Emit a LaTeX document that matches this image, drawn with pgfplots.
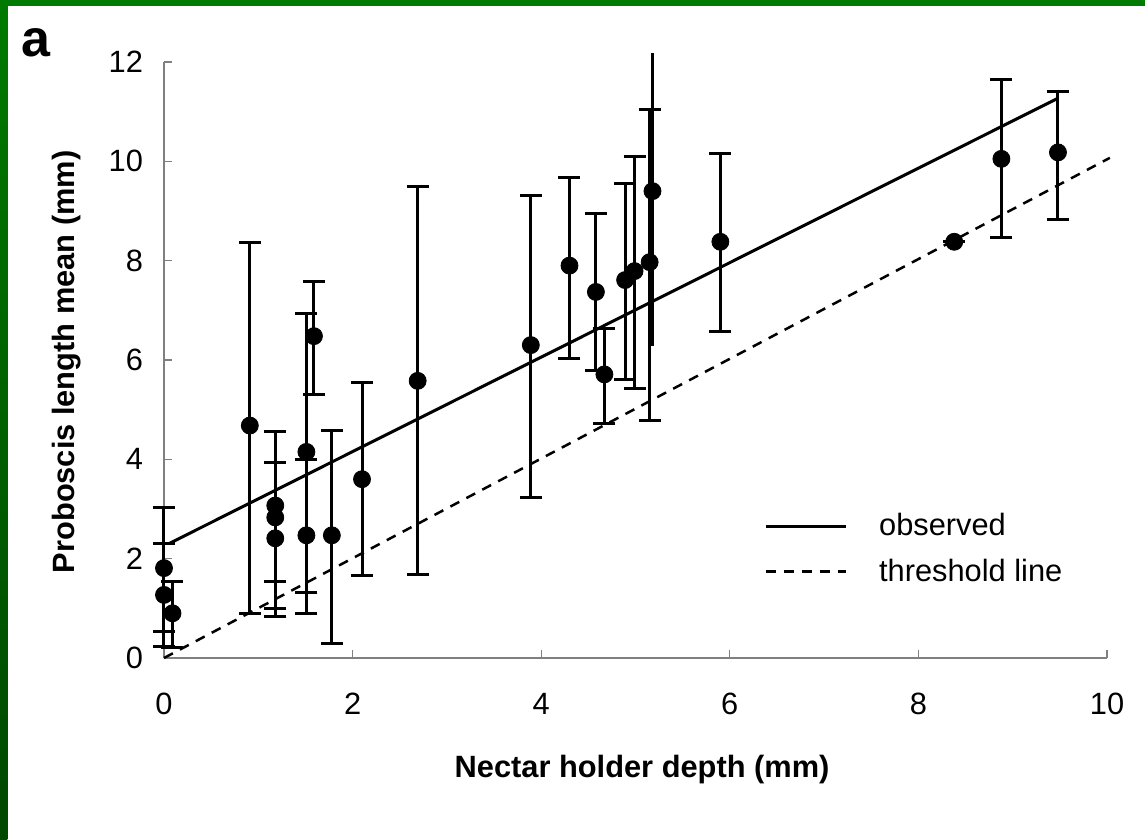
\documentclass[border=0pt]{standalone}
\usepackage{fontspec}
\setmainfont{Liberation Sans}
\usepackage{pgfplots}
\usepackage{pgfplotstable}
\pgfplotsset{compat=1.18}

\definecolor{framegreen}{RGB}{0,122,0}
\definecolor{framedark}{RGB}{0,72,0}

% depth, mean proboscis length, error up, error down
\pgfplotstableread{
x    y     ep    em
0    1.81  1.22  1.28
0    1.27  1.04  1.04
0.09 0.90  0.64  0.68
0.91 4.68  3.69  3.79
1.18 3.07  1.49  1.53
1.18 2.83  1.73  1.83
1.18 2.41  1.53  1.58
1.51 4.15  2.79  2.84
1.51 2.47  1.52  1.58
1.59 6.48  1.10  1.18
1.78 2.47  2.11  2.17
2.10 3.60  1.95  1.93
2.69 5.58  3.92  3.90
3.89 6.30  3.02  3.07
4.30 7.90  1.77  1.87
4.58 7.37  1.58  1.58
4.67 5.71  0.92  0.99
4.89 7.61  1.94  2.01
4.99 7.79  2.30  2.37
5.15 7.97  3.08  3.19
5.90 8.38  1.78  1.81
8.38 8.38  0     0
8.88 10.05 1.59  1.58
9.48 10.18 1.23  1.35
}\means

% this one runs off the top of the plot
\pgfplotstableread{
x    y     ep    em
5.18 9.40  2.78  3.12
}\topmean

\begin{document}
\begin{tikzpicture}
\path[use as bounding box] (-82pt,-91pt) rectangle (490.5pt,329pt);
\fill[white] (-82pt,-91pt) rectangle (490.5pt,329pt);
\shade[top color=framegreen, bottom color=framedark] (-82pt,-91pt) rectangle (-78.25pt,329pt);
\fill[framegreen] (-82pt,326.15pt) rectangle (490.5pt,329pt);
\node[anchor=base west, inner sep=0pt, font=\fontsize{26}{30}\selectfont\bfseries] at (-71.5pt,300.5pt) {a};

\begin{axis}[
  at={(0,0)}, anchor=south west,
  scale only axis,
  width=471.5pt, height=298pt,
  xmin=0, xmax=10, ymin=0, ymax=12,
  xtick={0,2,...,10}, ytick={0,2,...,12},
  axis lines*=left,
  axis line style={gray, line width=0.6pt},
  tick align=inside,
  major tick length=4pt,
  tick style={gray, line width=0.6pt},
  clip=false,
  font=\fontsize{15.4}{18}\selectfont,
  /pgf/number format/assume math mode=true,
  yticklabel style={xshift=-7pt},
  xticklabel style={yshift=-14pt},
  xlabel={\bfseries Nectar holder depth (mm)},
  ylabel={\bfseries Proboscis length mean (mm)},
  xlabel style={at={(axis description cs:0.507,-0.2)}, anchor=base},
  ylabel style={at={(axis description cs:-0.0944,0.497)}, anchor=base},
  legend style={at={(0.636,0.183)}, anchor=west, draw=none, fill=none,
    inner sep=0pt, row sep=6pt, font=\fontsize{15.4}{18}\selectfont},
  legend cell align=left,
  legend image code/.code={\draw[#1] (0pt,0pt) -- (40pt,0pt);},
  /tikz/every odd column/.append style={column sep=14pt},
]
\addplot[black, line width=1.5pt] coordinates {(0.06,2.31) (9.48,11.27)};
\addlegendentry{observed}
\addplot[black, line width=1.25pt, dash pattern=on 5pt off 4pt] coordinates {(0,0) (10.03,10.07)};
\addlegendentry{threshold line}

\addplot[only marks, mark=*, mark size=4.25pt, black, forget plot,
  error bars/.cd, y dir=both, y explicit,
  error bar style={line width=1.5pt, black},
  error mark options={rotate=90, line width=1.5pt, mark size=5.5pt, black}]
  table[x=x, y=y, y error plus=ep, y error minus=em] {\means};

\addplot[only marks, mark=*, mark size=4.25pt, black, forget plot,
  error bars/.cd, y dir=both, y explicit,
  error bar style={line width=1.5pt, black},
  error mark=none]
  table[x=x, y=y, y error plus=ep, y error minus=em] {\topmean};
\end{axis}
\end{tikzpicture}
\end{document}
